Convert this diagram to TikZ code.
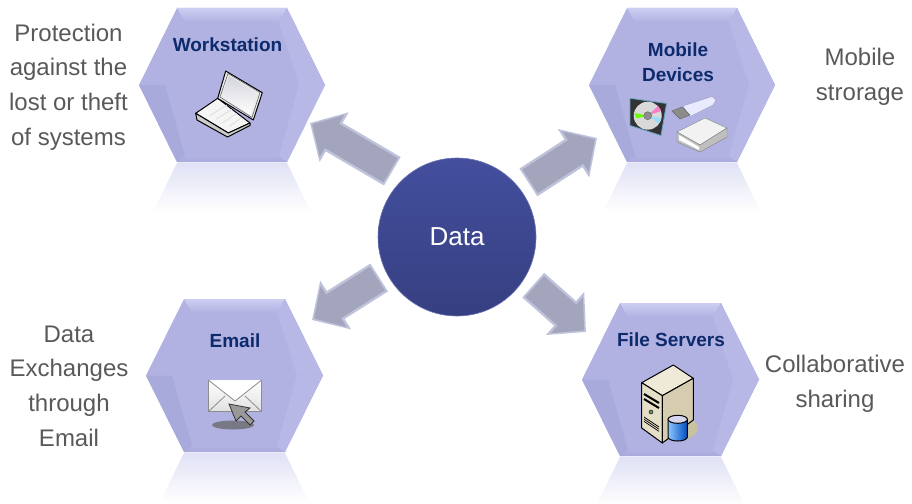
\documentclass[tikz,border=0pt]{standalone}
\usepackage{fontspec}
\setmainfont{Liberation Sans}
\usetikzlibrary{arrows.meta,calc}
\definecolor{hexbase}{HTML}{B1B2E1}
\definecolor{hexlight}{HTML}{CDCEF2}
\definecolor{hexdark}{HTML}{A9AADC}
\definecolor{hexglow}{HTML}{B7B8E6}
\definecolor{hexmirror}{HTML}{E0E1F5}
\definecolor{titleblue}{HTML}{0C2A6C}
\definecolor{sidegrey}{HTML}{595959}
\definecolor{arrowrim}{HTML}{BEC2DA}
\definecolor{arrowface}{HTML}{A2A5BC}
\definecolor{circletop}{HTML}{434F9E}
\definecolor{circlebottom}{HTML}{363F80}
\definecolor{circlerim}{HTML}{6C76B4}
\definecolor{servertop}{HTML}{EFE9D8}
\definecolor{serverfront}{HTML}{E6DFC8}
\definecolor{serverside}{HTML}{D6CDB0}
\definecolor{serverblob}{HTML}{C9C29F}
\tikzstyle{title}=[font=\fontsize{19}{25}\selectfont\bfseries,text=titleblue,align=center,inner sep=0pt]
\tikzstyle{side}=[font=\fontsize{24}{34.7}\selectfont,text=sidegrey,align=center,inner sep=0pt]
\tikzstyle{datacircle}=[circle,minimum size=158pt,inner sep=0pt,draw=circlerim,line width=0.6pt,top color=circletop,bottom color=circlebottom,text=white,font=\fontsize{26}{30}\selectfont]
\tikzstyle{arrowrimline}=[draw=arrowrim,line width=33pt,-{Triangle[width=56pt,length=28pt]}]
\tikzstyle{arrowfaceline}=[draw=arrowface,line width=28pt,-{Triangle[width=47pt,length=23pt]}]
\tikzstyle{iconline}=[draw=black,line width=1pt,line join=round]

\begin{document}
\begin{tikzpicture}[x=1pt,y=-1pt]

    \useasboundingbox (0,0) rectangle (912,503);

    % Hexagons with bevel and reflection
    \foreach \cx/\cy/\hw/\tw/\hh in {232/85/93/55/77, 682/85/93/55/77, 234.5/375.5/88.5/50.5/76.5, 670.5/379.5/88.5/50.5/76.5} {
        \shade[top color=hexmirror,bottom color=white] ({\cx-\tw},{\cy+\hh+1}) -- ({\cx+\tw},{\cy+\hh+1})
            -- ({\cx+\tw+24},{\cy+\hh+50}) -- ({\cx-\tw-24},{\cy+\hh+50}) -- cycle;
        \fill[hexbase] ({\cx-\hw},\cy) -- ({\cx-\tw},{\cy-\hh}) -- ({\cx+\tw},{\cy-\hh}) -- ({\cx+\hw},\cy)
            -- ({\cx+\tw},{\cy+\hh}) -- ({\cx-\tw},{\cy+\hh}) -- cycle;
        \shade[top color=hexlight,bottom color=hexbase] ({\cx-\tw},{\cy-\hh}) -- ({\cx+\tw},{\cy-\hh})
            -- ({\cx+\tw-8},{\cy-\hh+14}) -- ({\cx-\tw+8},{\cy-\hh+14}) -- cycle;
        \shade[top color=hexbase,bottom color=hexdark] ({\cx-\tw+8},{\cy+\hh-6}) -- ({\cx+\tw-8},{\cy+\hh-6})
            -- ({\cx+\tw},{\cy+\hh}) -- ({\cx-\tw},{\cy+\hh}) -- cycle;
        \fill[hexdark] ({\cx-\hw},\cy) -- ({\cx-\hw+26},\cy) -- ({\cx-\tw+8},{\cy+\hh-6}) -- ({\cx-\tw},{\cy+\hh}) -- cycle;
        \fill[hexglow] ({\cx+\hw},\cy) -- ({\cx+\hw-26},\cy) -- ({\cx+\tw-8},{\cy-\hh+14}) -- ({\cx+\tw},{\cy-\hh}) -- cycle;
        \fill[hexglow] ({\cx+\hw},\cy) -- ({\cx+\hw-26},\cy) -- ({\cx+\tw-8},{\cy+\hh-6}) -- ({\cx+\tw},{\cy+\hh}) -- cycle;
    }

    % Titles and side texts
    \node[title] (station) at (227.5,45) {Workstation};
    \node[title] (mobile) at (678,62.5) {Mobile\\Devices};
    \node[title] (email) at (235,341) {Email};
    \node[title] (files) at (671,340) {File Servers};

    \node[side] (stationtext) at (68.5,87) {Protection\\against the\\lost or theft\\of systems};
    \node[side] (mobiletext) at (860,76.5) {Mobile\\strorage};
    \node[side] (emailtext) at (69,386) {Data\\Exchanges\\through\\Email};
    \node[side] (filestext) at (835,384) {Collaborative\\sharing};

    \node[datacircle] (data) at (457,237) {Data};

    \coordinate (stationtip) at (310,123);
    \coordinate (mobiletip) at (597,138);
    \coordinate (emailtip) at (312,320);
    \coordinate (filestip) at (586,332);

    % Connect the circle with the hexagons
    \foreach \ang/\cut/\tip in {132/13.5/stationtip, 38/10.6/mobiletip, 207/8.5/emailtip, -31/11/filestip} {
        \draw[arrowrimline,shorten <=\cut pt] (data.\ang) -- (\tip);
        \draw[arrowfaceline,shorten <=\cut pt+2pt,shorten >=2.5pt] (data.\ang) -- (\tip);
    }

    % Laptop
    \filldraw[iconline,fill=white!96!black] (195.7,113.3) -- (217.7,98.3) -- (250,123) -- (228.3,133) -- cycle;
    \filldraw[iconline,fill=white!80!black] (195.7,113.3) -- (228.3,133) -- (250,123) -- (250,125.5) -- (227.5,137) -- (197,120) -- cycle;
    \foreach \t in {0.2,0.4,0.6,0.8}
        \draw[black!12,line width=1pt] ($(203,112)!\t!(236,130)$) -- ($(222,101)!\t!(246,122)$);
    \filldraw[iconline,fill=white!92!black] (217.7,98.3) -- (225.7,71) -- (262.3,92.7) -- (253.3,120) -- cycle;
    \draw[black!60,line width=0.6pt] (220,97) -- (228,73.5) -- (260,92.5) -- (252,117.5) -- cycle;
    \shade[top color=blue!12!gray!30,bottom color=white] (222,96.5) -- (229,76) -- (257.5,93) -- (250.5,115) -- cycle;

    % Disc case
    \filldraw[draw=cyan!50!gray,line width=0.8pt,fill=black!80] (630,98.3) -- (666.5,103.5) -- (661,135.5) -- (630,125.5) -- cycle;
    \fill[black!15] (647.7,115.7) circle (14pt);
    \fill[green!60!yellow] (647.7,115.7) -- (634.5,113) arc (190:215:13.5pt) -- cycle;
    \fill[magenta!50] (647.7,115.7) -- (658,106) arc (45:20:13.5pt) -- cycle;
    \fill[cyan!40] (647.7,115.7) -- (661,118) arc (-10:-35:13.5pt) -- cycle;
    \filldraw[draw=black!60,fill=black!45] (647.7,115.7) circle (4pt);

    % USB stick
    \filldraw[draw=blue!30!gray!60,line width=0.4pt,fill=blue!8!white] (683,106) -- (712,96.5) -- (716,100) -- (713,105) -- (690,116.5) -- cycle;
    \filldraw[draw=black!60,fill=black!45] (672,111) -- (682,107) -- (690,115) -- (680,119) -- cycle;

    % External disk
    \filldraw[draw=black!50,fill=white!95!black] (677,132) -- (705,118) -- (727,128) -- (700,145) -- cycle;
    \filldraw[draw=black!50,fill=black!25] (677,132) -- (700,145) -- (727,128) -- (727,137) -- (700,152) -- (677,142) -- cycle;
    \fill[white] (679,135) -- (699,147) -- (699,150) -- (679,140) -- cycle;

    % Envelope with cursor
    \fill[black!60,opacity=0.75] (233,425) ellipse (21pt and 4.5pt);
    \filldraw[draw=black!45,line width=1pt,top color=white,bottom color=black!12] (208.3,380) rectangle (261.7,411.7);
    \draw[black!45,line width=0.8pt,fill=white] (208.3,380) -- (235,401) -- (261.7,380);
    \draw[black!45,line width=0.8pt] (208.3,411.7) -- (225,396) (261.7,411.7) -- (245,396);
    \filldraw[draw=black!80,line width=0.8pt,fill=black!40] (229,404) -- (250,408) -- (245,412) -- (254,421) -- (250,425) -- (241,416) -- (236,421) -- cycle;

    % Server with cylinder
    \fill[serverblob] (690,418) .. controls (702,425) and (700,435) .. (685,440) -- (670,430) -- cycle;
    \filldraw[iconline,fill=servertop] (641.7,382.7) -- (673.3,365) -- (693.3,378.3) -- (662.3,395.7) -- cycle;
    \filldraw[iconline,fill=serverfront] (641.7,382.7) -- (662.3,395.7) -- (662.3,443) -- (641.7,428) -- cycle;
    \filldraw[iconline,fill=serverside] (662.3,395.7) -- (693.3,378.3) -- (693.3,420) -- (662.3,443) -- cycle;
    \foreach \y in {0,2.2,4.4}
        \draw[black,line width=0.7pt] (644,{417+\y}) -- (659,{427+\y});
    \draw[black,line width=2pt] (644,394) -- (659,403);
    \draw[black,line width=2pt] (644,399) -- (659,408);
    \filldraw[draw=black,fill=green!20!gray] (651,412) circle (2pt);
    \filldraw[iconline,left color=cyan!50!blue!45,right color=cyan!40!blue!75!black]
        (668,419.3) -- (668,437) arc (180:360:9.7pt and 4pt) -- (687.4,419.3) -- cycle;
    \filldraw[iconline,fill=cyan!15!blue!15] (677.7,419.3) ellipse (9.7pt and 4pt);

\end{tikzpicture}
\end{document}
